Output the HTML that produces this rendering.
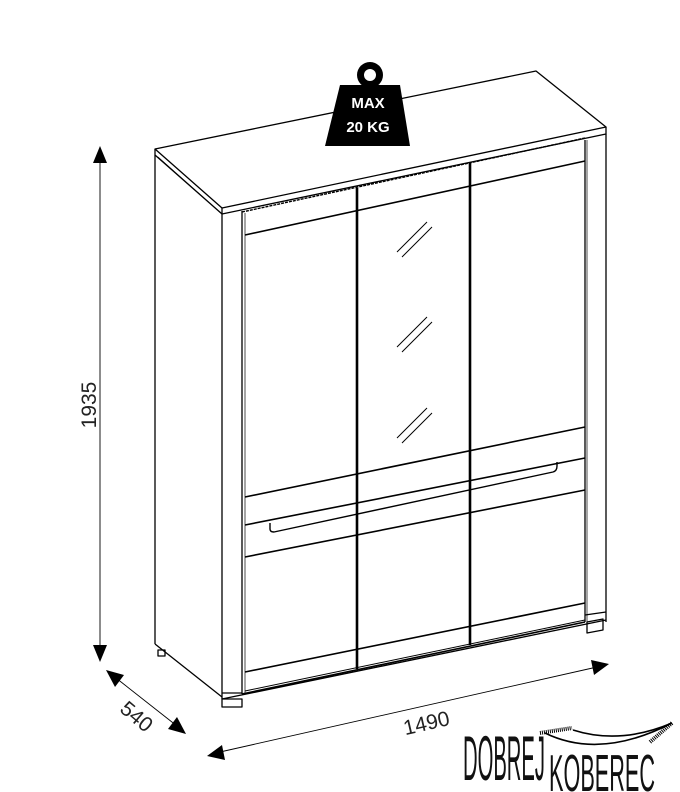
<!DOCTYPE html>
<html><head><style>html,body{margin:0;padding:0;background:#fff}svg{display:block}</style></head>
<body>
<svg width="680" height="792" viewBox="0 0 680 792" xmlns="http://www.w3.org/2000/svg" font-family="Liberation Sans, sans-serif">
<g fill="none" stroke="#000" stroke-width="1.3" stroke-linejoin="round">
<polygon points="155,149 536,71 606,127 222,208" fill="#fff"/>
<polyline points="155,149 155,155 222,214 606,134 606,127"/>
<line x1="222" y1="208" x2="222" y2="214"/>
<line x1="155" y1="155" x2="155" y2="644"/>
<polyline points="155,644 222,697"/>
<line x1="158" y1="157" x2="222" y2="214" stroke-width="0.8"/>
<line x1="222" y1="214" x2="222" y2="699"/>
<line x1="242" y1="211" x2="242" y2="694"/>
<line x1="245" y1="213" x2="245" y2="694" stroke-width="0.7"/>
<line x1="585" y1="140" x2="585" y2="622"/>
<line x1="587" y1="140" x2="587" y2="622" stroke-width="0.7"/>
<line x1="606" y1="134" x2="606" y2="622"/>
<polyline points="222,699 606,620"/>
<polyline points="222,693 242,693"/>
<line x1="242" y1="694" x2="585" y2="622" stroke-width="1.6"/>
<line x1="585" y1="615" x2="606" y2="612"/>
<rect x="222" y="699" width="20" height="8"/>
<polygon points="587,622 603,619 603,630 587,633"/>
<rect x="158" y="650" width="7" height="6"/>
<line x1="242" y1="212" x2="585" y2="138" stroke-width="1.4" stroke-dasharray="3 1"/>
<line x1="245" y1="235" x2="585" y2="161" stroke-width="1.6"/>
<line x1="245" y1="497" x2="585" y2="427" stroke-width="1.6"/>
<line x1="245" y1="525" x2="585" y2="458" stroke-width="1.6"/>
<line x1="245" y1="557" x2="585" y2="490" stroke-width="1.6"/>
<line x1="245" y1="672" x2="585" y2="603" stroke-width="1.6"/>
<line x1="245" y1="691" x2="585" y2="620" stroke-width="1"/>
<line x1="357" y1="188" x2="357" y2="669" stroke-width="2.6"/>
<line x1="470" y1="163" x2="470" y2="645" stroke-width="2.6"/>
<path d="M270,523 L270,529 Q270,532 274,532 L553,472 Q557,471 557,466 L557,462" stroke-width="1.4"/>
<g stroke-width="1">
<line x1="397" y1="252" x2="427" y2="222"/><line x1="402" y1="257" x2="432" y2="227"/>
<line x1="397" y1="347" x2="427" y2="317"/><line x1="402" y1="352" x2="432" y2="322"/>
<line x1="397" y1="438" x2="427" y2="408"/><line x1="402" y1="443" x2="432" y2="413"/>
</g>
</g>
<circle cx="370" cy="75" r="13" fill="#000"/>
<circle cx="370" cy="75" r="6" fill="#fff"/>
<polygon points="340,85 400,85 410,146 325,146" fill="#000"/>
<text x="368" y="108" fill="#fff" font-weight="bold" font-size="15" text-anchor="middle">MAX</text>
<text x="368" y="132" fill="#fff" font-weight="bold" font-size="15" text-anchor="middle">20 KG</text>
<g stroke="#000" stroke-width="0.9">
<line x1="100" y1="158" x2="100" y2="650"/>
<line x1="116" y1="678" x2="177" y2="726"/>
<line x1="220" y1="752" x2="597" y2="667"/>
</g>
<g fill="#000">
<polygon points="100,146 93,163 107,163"/>
<polygon points="100,662 93,645 107,645"/>
<polygon points="106,670 124,675 115,687"/>
<polygon points="186,734 168,729 177,717"/>
<polygon points="207,756 222,745 225,760"/>
<polygon points="609,664 594,675 591,660"/>
</g>
<g font-size="21" fill="#222">
<text transform="translate(96,405) rotate(-90)" text-anchor="middle">1935</text>
<text transform="translate(132,722) rotate(40)" text-anchor="middle">540</text>
<text transform="translate(428,730) rotate(-13)" text-anchor="middle">1490</text>
</g>
<g fill="#111">
<text transform="translate(463,780) scale(1,1.4)" font-size="45" textLength="82" lengthAdjust="spacingAndGlyphs">DOBREJ</text>
<text transform="translate(549,791) scale(1,1.4)" font-size="37" textLength="106" lengthAdjust="spacingAndGlyphs">KOBEREC</text>
</g>
<g fill="none" stroke="#000" stroke-width="1.6">
<path d="M545,733 Q600,760 672,723"/>
<path d="M573,730 Q620,745 672,723"/>
<path d="M540,733 L572,728 M650,742 L672,723" stroke-width="4" stroke-dasharray="1 1"/>
</g>
</svg>
</body></html>
